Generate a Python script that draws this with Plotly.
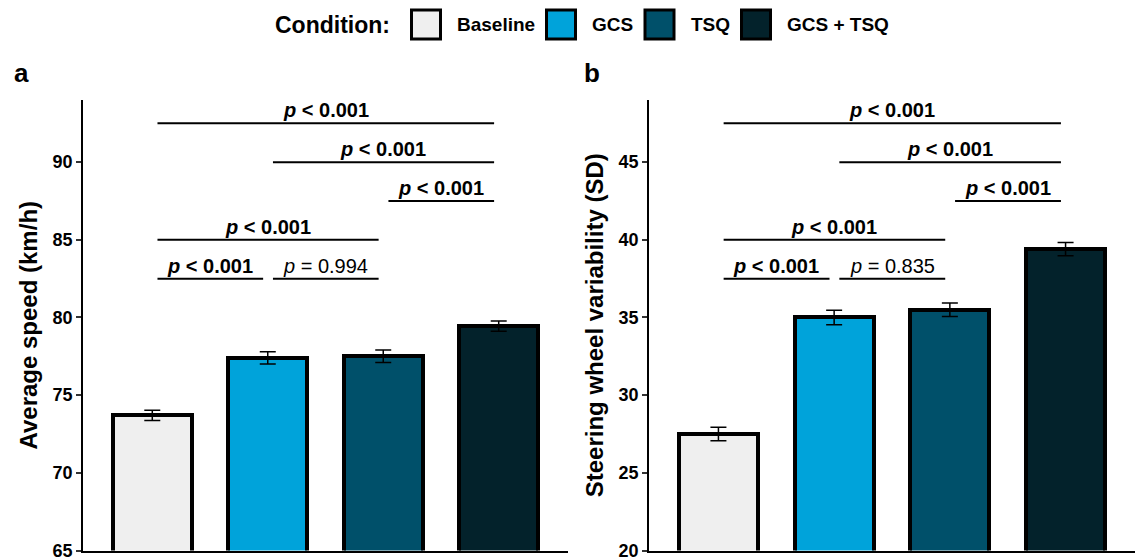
import plotly.graph_objects as go

# ---------------- data ----------------
conditions = ["Baseline", "GCS", "TSQ", "GCS + TSQ"]
colors = ["#EFEFEF", "#00A3DA", "#00506A", "#03222B"]

speed_mean = [73.7, 77.4, 77.5, 79.45]
speed_err = [0.33, 0.40, 0.40, 0.33]
steer_mean = [27.5, 35.0, 35.5, 39.4]
steer_err = [0.43, 0.47, 0.44, 0.43]

speed_ticks = [65, 70, 75, 80, 85, 90]
steer_ticks = [20, 25, 30, 35, 40, 45]
speed_range = [65, 94]
steer_range = [20, 49]

# pairwise comparisons (index pairs into conditions)
pairs = [(0, 3), (1, 3), (2, 3), (0, 2), (0, 1), (1, 2)]
speed_heights = [92.5, 90, 87.5, 85, 82.5, 82.5]
speed_p = ["< 0.001", "< 0.001", "< 0.001", "< 0.001", "< 0.001", "= 0.994"]
steer_heights = [47.5, 45, 42.5, 40, 37.5, 37.5]
steer_p = ["< 0.001", "< 0.001", "< 0.001", "< 0.001", "< 0.001", "= 0.835"]

speed_title = "Average speed (km/h)"
steer_title = "Steering wheel variability (SD)"
legend_title = "Condition:"
panel_labels = ["a", "b"]

# ---------------- style / layout ----------------
W, H = 1139, 558
FONT = "Liberation Sans, Arial, sans-serif"


def px_x(p):
    return p / W


def px_y(p):
    return 1 - p / H


dom_a = [px_x(83), px_x(568)]
dom_b = [px_x(649), px_x(1135)]
dom_y = [px_y(550.5), px_y(100)]

xpos = list(range(len(conditions)))

fig = go.Figure()

panels = [
    ("x", "y", speed_mean, speed_err, speed_heights, speed_p),
    ("x2", "y2", steer_mean, steer_err, steer_heights, steer_p),
]

shapes = []
annotations = []

for xa, ya, means, errs, heights, plabels in panels:
    fig.add_trace(go.Bar(
        x=xpos, y=means, xaxis=xa, yaxis=ya, width=0.685,
        marker=dict(color=colors, line=dict(color="black", width=4)),
        error_y=dict(type="data", array=errs, visible=True,
                     color="black", thickness=1.5, width=8),
        showlegend=False, hoverinfo="skip",
    ))
    for (i, j), h, lab in zip(pairs, heights, plabels):
        shapes.append(dict(type="line", xref=xa, yref=ya,
                           x0=i + 0.045, x1=j - 0.04, y0=h, y1=h,
                           line=dict(color="black", width=2)))
        if lab.startswith("<"):
            txt = "<b><i>p</i> &lt; " + lab[2:] + "</b>"
        else:
            txt = "<i>p</i> = " + lab[2:]
        annotations.append(dict(xref=xa, yref=ya, x=(i + j) / 2, y=h,
                                text=txt, showarrow=False,
                                xanchor="center", yanchor="bottom",
                                font=dict(family=FONT, size=20, color="black")))

# panel labels
for lab, xp in zip(panel_labels, [12, 582]):
    annotations.append(dict(xref="paper", yref="paper", x=px_x(xp), y=px_y(73),
                            text="<b>" + lab + "</b>", showarrow=False,
                            xanchor="left", yanchor="middle",
                            font=dict(family=FONT, size=26, color="black")))

# legend (drawn manually to get large keys)
leg_box_x = [410, 545, 643.5, 740]
leg_box = 32
leg_top, leg_mid = 8.5, 24.5
annotations.append(dict(xref="paper", yref="paper", x=px_x(273), y=px_y(leg_mid),
                        text="<b>" + legend_title + "</b>", showarrow=False,
                        xanchor="left", yanchor="middle",
                        font=dict(family=FONT, size=23, color="black")))
for name, col, bx in zip(conditions, colors, leg_box_x):
    shapes.append(dict(type="rect", xref="paper", yref="paper",
                       x0=px_x(bx + 1.5), x1=px_x(bx + leg_box - 1.5),
                       y0=px_y(leg_top + 1.5), y1=px_y(leg_top + leg_box - 1.5),
                       fillcolor=col, line=dict(color="black", width=3)))
    annotations.append(dict(xref="paper", yref="paper", x=px_x(bx + leg_box + 13), y=px_y(leg_mid),
                            text="<b>" + name + "</b>", showarrow=False,
                            xanchor="left", yanchor="middle",
                            font=dict(family=FONT, size=19, color="black")))

xaxis_common = dict(range=[-0.6, 3.6], showticklabels=False, ticks="",
                    showgrid=False, zeroline=False, showline=True,
                    linecolor="black", linewidth=1.5, fixedrange=True,
                    automargin=False)
yaxis_common = dict(showgrid=False, zeroline=False, showline=True,
                    linecolor="black", linewidth=1.5, ticks="outside",
                    ticklen=5, tickwidth=1.5, tickcolor="#333333",
                    tickfont=dict(family=FONT, size=18, color="black", weight="bold"),
                    ticklabeloverflow="allow", automargin=False,
                    fixedrange=True)

fig.update_layout(
    width=W, height=H,
    margin=dict(l=0, r=0, t=0, b=0),
    paper_bgcolor="white", plot_bgcolor="white",
    font=dict(family=FONT, color="black"),
    bargap=0,
    xaxis=dict(domain=dom_a, anchor="y", **xaxis_common),
    xaxis2=dict(domain=dom_b, anchor="y2", **xaxis_common),
    yaxis=dict(domain=dom_y, anchor="x", range=speed_range, tickvals=speed_ticks,
               title=dict(text="<b>" + speed_title + "</b>", standoff=8,
                          font=dict(family=FONT, size=24, color="black")),
               **yaxis_common),
    yaxis2=dict(domain=dom_y, anchor="x2", range=steer_range, tickvals=steer_ticks,
                title=dict(text="<b>" + steer_title + "</b>", standoff=8,
                           font=dict(family=FONT, size=24, color="black")),
                **yaxis_common),
    shapes=shapes,
    annotations=annotations,
)

fig.write_html("out.html", config={"displayModeBar": False},
               post_script="document.body.style.margin='0';document.body.style.overflow='hidden';")
